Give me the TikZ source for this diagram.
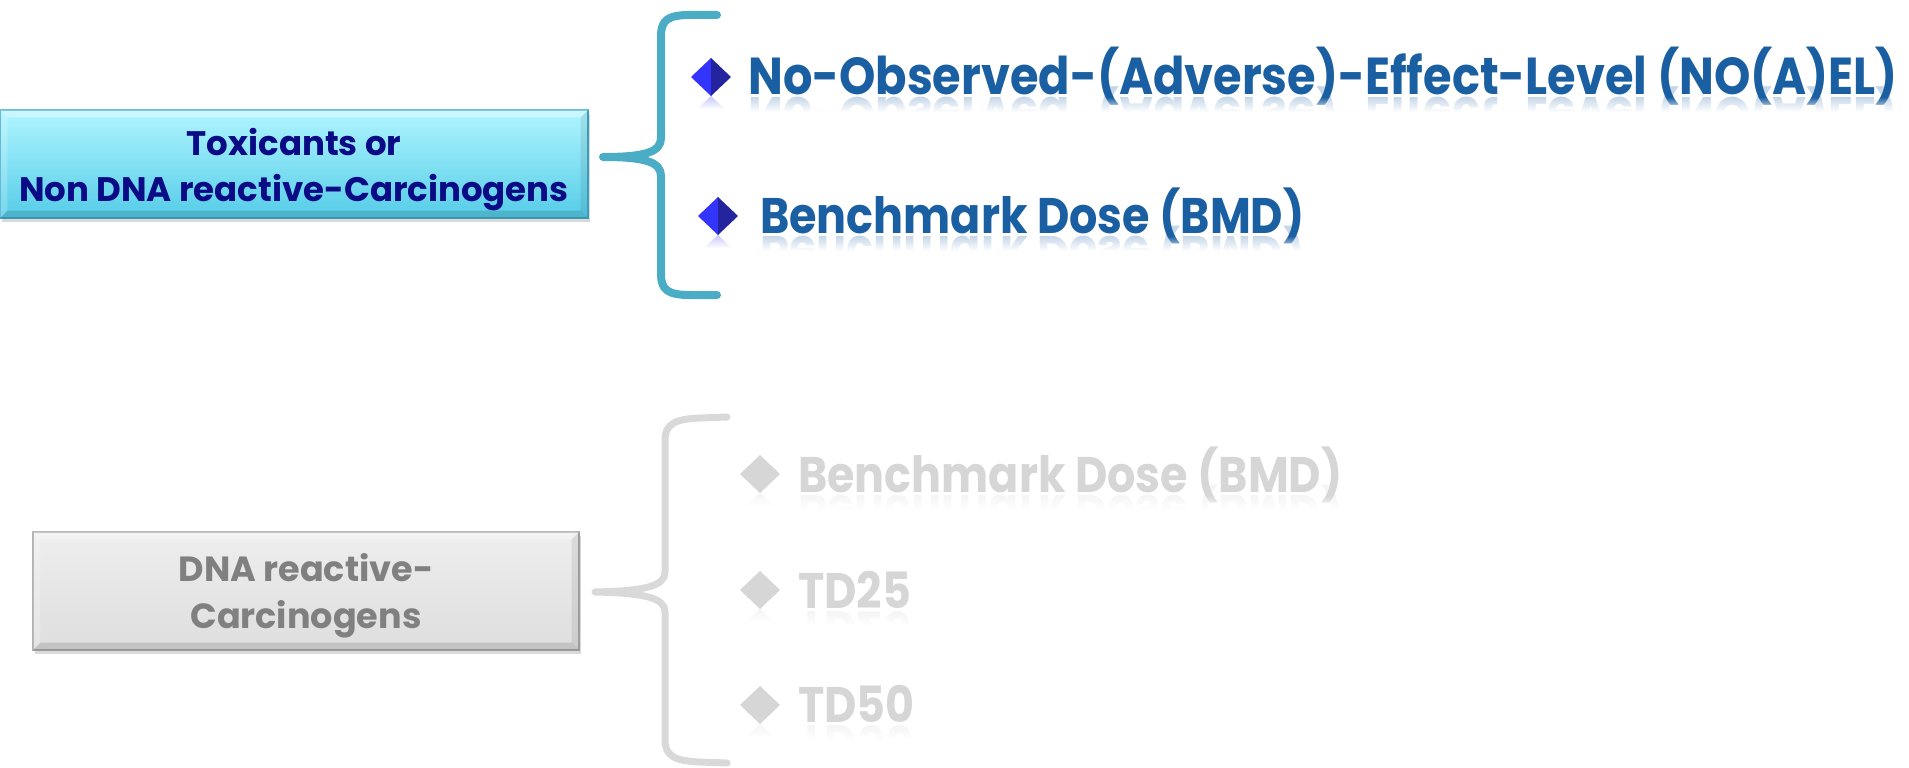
\documentclass[tikz,border=0pt]{standalone}
\usepackage{fontspec}
\setmainfont{Poppins}
\newfontfamily\itemfam{Poppins}[FakeStretch=0.89]
\usetikzlibrary{shadows,calc,fadings}
\definecolor{tealbrace}{HTML}{4BACC6}
\definecolor{navytext}{HTML}{0B0B86}
\definecolor{itemblue}{HTML}{1B5FA3}
\definecolor{itemgray}{HTML}{D6D6D6}
\definecolor{bracegray}{HTML}{D9D9D9}
\definecolor{boxgraytext}{HTML}{808080}
\definecolor{dmdleft}{HTML}{3434FF}
\definecolor{dmdright}{HTML}{24249F}
\definecolor{cyantop}{HTML}{B0F5FF}
\definecolor{cyanbot}{HTML}{55CCE8}
\definecolor{cyanedge}{HTML}{3FA9C9}
\definecolor{graytop}{HTML}{EEEEEE}
\definecolor{graybot}{HTML}{DEDEDE}
\definecolor{grayedge}{HTML}{A8A8A8}
\tikzfading[name=reflfade, top color=transparent!100, bottom color=transparent!0]
\tikzfading[name=dmdfade, top color=transparent!30, bottom color=transparent!100]
\tikzset{
  boxfont/.style={font=\fontsize{34}{46}\selectfont\bfseries},
  boxfontb/.style={font=\fontsize{35}{47}\selectfont\bfseries},
  itemtext/.style={font=\itemfam\fontsize{50}{58}\selectfont\bfseries, anchor=base west, inner sep=0pt},
  bigitem/.style={font=\itemfam\fontsize{52}{60}\selectfont\bfseries},
  plainitem/.style={},
  catbox/.style={rectangle, inner sep=0pt, line width=1.2pt,
    drop shadow={shadow xshift=2pt, shadow yshift=-4pt, opacity=0.3}},
  cyanbox/.style={catbox, draw=cyanedge, top color=cyantop, bottom color=cyanbot},
  graybox/.style={catbox, draw=grayedge, top color=graytop, bottom color=graybot},
  boxlabel/.style={align=center, inner sep=0pt},
  bracelineblue/.style={tealbrace, line width=8pt, line cap=round, line join=round},
  bracelinegray/.style={bracegray, line width=7pt, line cap=round, line join=round},
  pics/dmd/.style 2 args={code={
    \fill[#1] (-20,0) -- (0,-19) -- (0,19) -- cycle;
    \fill[#2] (0,-19) -- (20,0) -- (0,19) -- cycle;
    \fill[#1, opacity=0.4, path fading=dmdfade] (0,19) -- (-14,32) -- (14,32) -- cycle;
  }}
}
\newcommand\boxbevel[2]{%
  \fill[white,opacity=0.35] (#1.north west) -- (#1.north east) -- ($(#1.north east)+(-#2,#2)$) -- ($(#1.north west)+(#2,#2)$) -- cycle;
  \fill[white,opacity=0.2] (#1.north west) -- (#1.south west) -- ($(#1.south west)+(#2,-#2)$) -- ($(#1.north west)+(#2,#2)$) -- cycle;
  \fill[black,opacity=0.12] (#1.south west) -- (#1.south east) -- ($(#1.south east)+(-#2,-#2)$) -- ($(#1.south west)+(#2,-#2)$) -- cycle;
  \fill[black,opacity=0.08] (#1.north east) -- (#1.south east) -- ($(#1.south east)+(-#2,-#2)$) -- ($(#1.north east)+(-#2,#2)$) -- cycle;
}
\newcommand\textreflect[4]{%
  \node[itemtext, #3, text=#2, opacity=0.25, yscale=-1] (#1r) at ($(#1.base west)+(0,3)$) {#4};
  \fill[white, path fading=reflfade] ($(#1.base west)+(-6,3)$) rectangle ($(#1.base east)+(6,18)$);
  \fill[white] ($(#1.base west)+(-6,18)$) rectangle ($(#1.base east)+(6,54)$);
}
\begin{document}
\begin{tikzpicture}[x=1pt,y=-1pt]
\useasboundingbox (0,0) rectangle (1909,768);

% category boxes
\node[cyanbox, minimum width=588pt, minimum height=108pt] (tox) at (294,164) {};
\boxbevel{tox}{8}
\node[boxlabel, boxfont, text=navytext] (toxlabel) at (294,170) {Toxicants or\\Non DNA reactive-Carcinogens};
\node[graybox, minimum width=546pt, minimum height=118pt] (dna) at (306,591) {};
\boxbevel{dna}{8}
\node[boxlabel, boxfontb, text=boxgraytext] (dnalabel) at (306,596) {DNA reactive-\\Carcinogens};

% top brace
\coordinate (b1top) at (717,15);
\coordinate (b1tip) at (603,157);
\coordinate (b1bot) at (717,295);
\draw[bracelineblue] (b1top) -- (690,15) .. controls (668,15) and (661,20) .. (661,36) -- (661,138)
  .. controls (661,152) and (645,157) .. (b1tip)
  .. controls (645,157) and (661,162) .. (661,176) -- (661,274)
  .. controls (661,290) and (668,295) .. (690,295) -- (b1bot);

% bottom brace
\coordinate (b2top) at (727,417);
\coordinate (b2tip) at (595,592);
\coordinate (b2bot) at (727,763);
\draw[bracelinegray] (b2top) -- (700,418) .. controls (675,419) and (665,424) .. (665,440) -- (665,572)
  .. controls (665,586) and (645,591) .. (b2tip)
  .. controls (645,593) and (665,598) .. (665,612) -- (665,740)
  .. controls (665,756) and (675,761) .. (700,762) -- (b2bot);

% top items
\pic at (711,77) {dmd={dmdleft}{dmdright}};
\node[itemtext, bigitem, text=itemblue] (i1) at (748,94) {No-Observed-(Adverse)-Effect-Level (NO(A)EL)};
\textreflect{i1}{itemblue}{bigitem}{No-Observed-(Adverse)-Effect-Level (NO(A)EL)}
\pic at (718,216) {dmd={dmdleft}{dmdright}};
\node[itemtext, text=itemblue] (i2) at (760,233) {Benchmark Dose (BMD)};
\textreflect{i2}{itemblue}{plainitem}{Benchmark Dose (BMD)}

% bottom items
\pic at (760,474) {dmd={itemgray}{itemgray}};
\node[itemtext, text=itemgray] (g1) at (798,492) {Benchmark Dose (BMD)};
\textreflect{g1}{itemgray}{plainitem}{Benchmark Dose (BMD)}
\pic at (760,590) {dmd={itemgray}{itemgray}};
\node[itemtext, text=itemgray] (g2) at (798,608) {TD25};
\textreflect{g2}{itemgray}{plainitem}{TD25}
\pic at (760,705) {dmd={itemgray}{itemgray}};
\node[itemtext, text=itemgray] (g3) at (798,722) {TD50};
\textreflect{g3}{itemgray}{plainitem}{TD50}
\end{tikzpicture}
\end{document}
